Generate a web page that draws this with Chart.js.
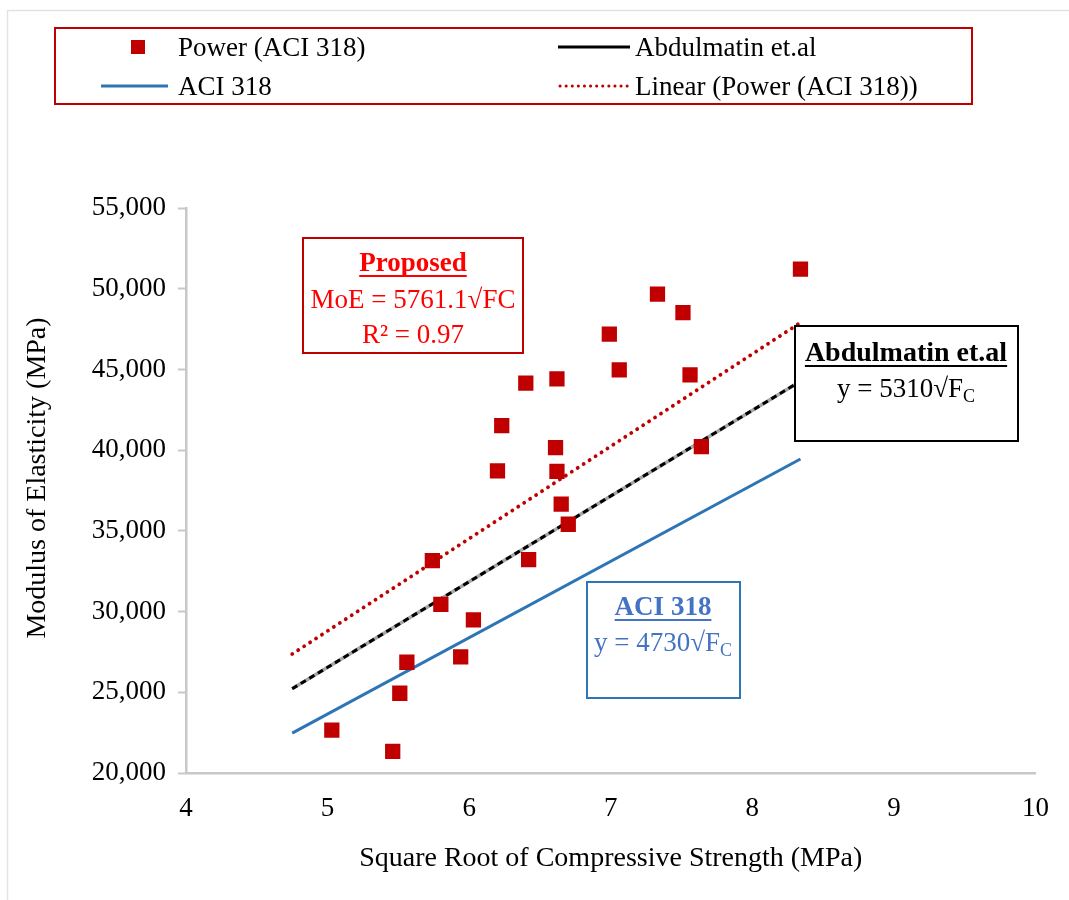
<!DOCTYPE html>
<html>
<head>
<meta charset="utf-8">
<script src="https://cdn.jsdelivr.net/npm/chart.js@4.4.1/dist/chart.umd.min.js"></script>
<style>
  html, body { margin: 0; padding: 0; background: #ffffff; }
  #wrap { position: relative; width: 1069px; height: 900px; }
  canvas { display: block; }
</style>
</head>
<body>
<div id="wrap"><canvas id="c" width="1069" height="900"></canvas></div>
<script>
// ---- Data ----
const sqrtFc = [5.03, 5.46, 5.51, 5.56, 5.74, 5.80, 5.94, 6.03, 6.20, 6.23, 6.40, 6.42, 6.61, 6.62, 6.62, 6.65, 6.70, 6.99, 7.06, 7.33, 7.51, 7.56, 7.64, 8.34];
const moe    = [22650, 21340, 24940, 26860, 33150, 30450, 27190, 29480, 38710, 41520, 44150, 33220, 40160, 44410, 38690, 36650, 35410, 47180, 44970, 49660, 48520, 44660, 40220, 51210];

const lineX          = [4.75, 8.34];
const aciLineY       = [22470, 39450];
const abdulLineY     = [25220, 44270];
const linearTrendY   = [27370, 47900];

const xTicks = [4, 5, 6, 7, 8, 9, 10];
const yTicks = [20000, 25000, 30000, 35000, 40000, 45000, 50000, 55000];

const seriesNames = ['Power (ACI 318)', 'Abdulmatin et.al', 'ACI 318', 'Linear (Power (ACI 318))'];
const axisTitles = { x: 'Square Root of Compressive Strength (MPa)', y: 'Modulus of Elasticity (MPa)' };

const RED = '#C00000';
const BLUE = '#2E75B6';
const SERIF = '"Liberation Serif", "Times New Roman", serif';

const pts = (xs, ys) => xs.map((x, i) => ({ x: x, y: ys[i] }));

const overlay = {
  id: 'overlay',
  afterDraw(chart) {
    const ctx = chart.ctx;
    ctx.save();
    // faint frame lines
    ctx.strokeStyle = '#E3E3E3';
    ctx.lineWidth = 1.5;
    ctx.beginPath();
    ctx.moveTo(7.5, 900); ctx.lineTo(7.5, 10.5); ctx.lineTo(1069, 10.5);
    ctx.stroke();

    // y axis title (rotated)
    ctx.save();
    ctx.translate(38, 478);
    ctx.rotate(-Math.PI / 2);
    ctx.font = '28px ' + SERIF;
    ctx.fillStyle = '#000';
    ctx.textAlign = 'center';
    ctx.textBaseline = 'middle';
    ctx.fillText(axisTitles.y, 0, 0);
    ctx.restore();

    // ---- Legend ----
    ctx.strokeStyle = RED;
    ctx.lineWidth = 2;
    ctx.strokeRect(55, 28, 917, 76);
    ctx.font = '27px ' + SERIF;
    ctx.fillStyle = '#000';
    ctx.textAlign = 'left';
    ctx.textBaseline = 'alphabetic';
    ctx.fillStyle = RED;
    ctx.fillRect(131, 40, 14, 14);
    ctx.fillStyle = '#000';
    ctx.fillText(seriesNames[0], 178, 56);
    ctx.strokeStyle = '#000';
    ctx.lineWidth = 3;
    ctx.beginPath(); ctx.moveTo(558, 47); ctx.lineTo(630, 47); ctx.stroke();
    ctx.fillText(seriesNames[1], 635, 56);
    ctx.strokeStyle = BLUE;
    ctx.beginPath(); ctx.moveTo(101, 86); ctx.lineTo(168, 86); ctx.stroke();
    ctx.fillText(seriesNames[2], 178, 95);
    ctx.strokeStyle = RED;
    ctx.lineWidth = 3;
    ctx.lineCap = 'round';
    ctx.setLineDash([0.1, 6]);
    ctx.beginPath(); ctx.moveTo(560, 86); ctx.lineTo(630, 86); ctx.stroke();
    ctx.setLineDash([]);
    ctx.lineCap = 'butt';
    ctx.fillText(seriesNames[3], 635, 95);

    function underlined(text, cx, by, color, size) {
      ctx.font = 'bold ' + size + 'px ' + SERIF;
      ctx.fillStyle = color;
      ctx.textAlign = 'center';
      ctx.fillText(text, cx, by);
      const w = ctx.measureText(text).width;
      ctx.strokeStyle = color;
      ctx.lineWidth = 1.8;
      ctx.beginPath(); ctx.moveTo(cx - w / 2, by + 5); ctx.lineTo(cx + w / 2, by + 5); ctx.stroke();
    }
    function eqWithSub(main, sub, cx, by, color, size) {
      ctx.font = size + 'px ' + SERIF;
      const w1 = ctx.measureText(main).width;
      ctx.font = Math.round(size * 0.68) + 'px ' + SERIF;
      const w2 = ctx.measureText(sub).width;
      const start = cx - (w1 + w2) / 2;
      ctx.fillStyle = color;
      ctx.textAlign = 'left';
      ctx.font = size + 'px ' + SERIF;
      ctx.fillText(main, start, by);
      ctx.font = Math.round(size * 0.68) + 'px ' + SERIF;
      ctx.fillText(sub, start + w1, by + 5);
    }

    // ---- Proposed box ----
    ctx.strokeStyle = RED;
    ctx.lineWidth = 2;
    ctx.strokeRect(303, 238, 220, 115);
    underlined('Proposed', 413, 271, '#FF0000', 27);
    ctx.font = '27px ' + SERIF;
    ctx.fillStyle = '#FF0000';
    ctx.textAlign = 'center';
    ctx.fillText('MoE = 5761.1\u221AFC', 413, 308);
    ctx.fillText('R\u00B2 = 0.97', 413, 343);

    // ---- Abdulmatin box ----
    ctx.fillStyle = '#fff';
    ctx.fillRect(795, 326, 223, 115);
    ctx.strokeStyle = '#000';
    ctx.lineWidth = 2;
    ctx.strokeRect(795, 326, 223, 115);
    underlined('Abdulmatin et.al', 906, 361, '#000', 28);
    eqWithSub('y = 5310\u221AF', 'C', 906, 397, '#000', 27);

    // ---- ACI box ----
    ctx.fillStyle = '#fff';
    ctx.fillRect(587, 582, 153, 116);
    ctx.strokeStyle = BLUE;
    ctx.lineWidth = 2;
    ctx.strokeRect(587, 582, 153, 116);
    underlined('ACI 318', 663, 615, '#4472C4', 27);
    eqWithSub('y = 4730\u221AF', 'C', 663, 651, '#4472C4', 27);

    ctx.restore();
  }
};

new Chart(document.getElementById('c'), {
  type: 'scatter',
  data: {
    datasets: [
      {
        label: seriesNames[0],
        data: pts(sqrtFc, moe),
        pointStyle: 'rect',
        pointRadius: 10.8,
        pointHoverRadius: 10.8,
        backgroundColor: RED,
        borderColor: RED,
        borderWidth: 0,
        order: 0
      },
      {
        label: seriesNames[1] + ' underlay',
        type: 'line',
        data: pts(lineX, abdulLineY),
        borderColor: '#A6A6A6',
        borderWidth: 3.5,
        pointRadius: 0,
        fill: false,
        order: 3
      },
      {
        label: seriesNames[1],
        type: 'line',
        data: pts(lineX, abdulLineY),
        borderColor: '#000000',
        borderWidth: 3,
        borderDash: [6, 4],
        pointRadius: 0,
        fill: false,
        order: 2
      },
      {
        label: seriesNames[2],
        type: 'line',
        data: pts(lineX, aciLineY),
        borderColor: BLUE,
        borderWidth: 3,
        pointRadius: 0,
        fill: false,
        order: 2
      },
      {
        label: seriesNames[3],
        type: 'line',
        data: pts(lineX, linearTrendY),
        borderColor: RED,
        borderWidth: 3.8,
        borderDash: [0.1, 7],
        borderCapStyle: 'round',
        pointRadius: 0,
        fill: false,
        order: 1
      }
    ]
  },
  options: {
    responsive: false,
    animation: false,
    events: [],
    layout: { padding: { left: 0, right: 32, top: 208, bottom: 0 } },
    plugins: {
      legend: { display: false },
      tooltip: { enabled: false },
      title: { display: false }
    },
    scales: {
      x: {
        type: 'linear',
        min: 4, max: 10,
        afterFit(s) { s.height = 127; },
        afterBuildTicks(s) { s.ticks = xTicks.map(v => ({ value: v })); },
        grid: { display: true, drawOnChartArea: false, drawTicks: false, color: '#C8C8C8' },
        border: { display: true, color: '#C8C8C8', width: 2.5 },
        ticks: {
          color: '#000',
          font: { family: SERIF, size: 27 },
          padding: 20,
          maxRotation: 0,
          autoSkip: false
        },
        title: {
          display: true,
          text: axisTitles.x,
          color: '#000',
          font: { family: SERIF, size: 28 },
          padding: { top: 0, bottom: 25 }
        }
      },
      y: {
        type: 'linear',
        min: 20000, max: 55000,
        afterFit(s) { s.width = 186; },
        afterBuildTicks(s) { s.ticks = yTicks.map(v => ({ value: v })); },
        grid: { display: true, drawOnChartArea: false, drawTicks: true, tickLength: 8, tickWidth: 2, color: '#C8C8C8' },
        border: { display: true, color: '#C8C8C8', width: 2.5 },
        ticks: {
          color: '#000',
          font: { family: SERIF, size: 27 },
          padding: 12,
          callback: v => v.toLocaleString('en-US')
        },
        title: { display: false }
      }
    }
  },
  plugins: [overlay]
});
</script>
</body>
</html>
